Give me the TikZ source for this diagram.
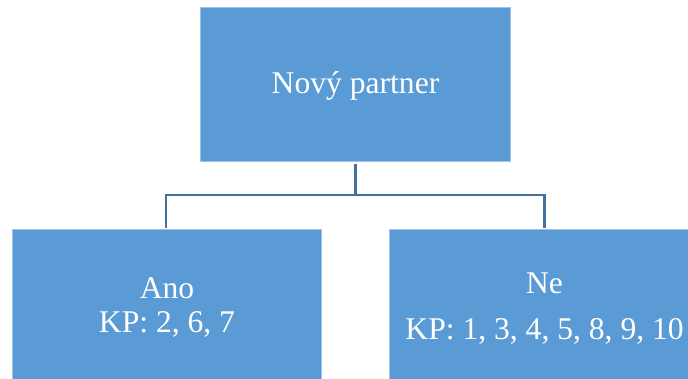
\documentclass[tikz,border=0pt]{standalone}
\usepackage{fontspec}
\setmainfont{Liberation Serif}
\definecolor{boxblue}{RGB}{91,155,213}
\definecolor{linkblue}{RGB}{65,113,156}
\begin{document}
\begin{tikzpicture}[x=1pt,y=1pt,
  box/.style={fill=boxblue,draw=boxblue!60!white,line width=0.6pt,minimum width=309.6pt,minimum height=153.3pt,inner sep=0pt},
  lbl/.style={text=white,anchor=base,inner sep=0pt,font=\fontsize{31.6}{34}\selectfont},
  link/.style={draw=linkblue,line width=2.6pt}]
\useasboundingbox (0,0) rectangle (688,378);
\clip (0,0) rectangle (688,378);
\node[box] (top) at (355.5,293.65) {};
\node[box] (ano) at (166.85,72) {};
\node[box] (ne) at (544.5,72) {};
\node[lbl] (t1) at (355.5,284.7) {Nový partner};
\node[lbl] (a1) at (167,79.7) {Ano};
\node[lbl] (a2) at (167,45.3) {KP: 2, 6, 7};
\node[lbl] (n1) at (544.6,84.7) {Ne};
\node[lbl] (n2) at (544.6,39) {KP: 1, 3, 4, 5, 8, 9, 10};
\coordinate (j) at (355.5,183);
\draw[link] ([yshift=-3pt]top.south) -- (j);
\draw[link] ([xshift=-0.85pt,yshift=1.5pt]ano.north) |- (j) -| ([yshift=1.5pt]ne.north);
\end{tikzpicture}
\end{document}
